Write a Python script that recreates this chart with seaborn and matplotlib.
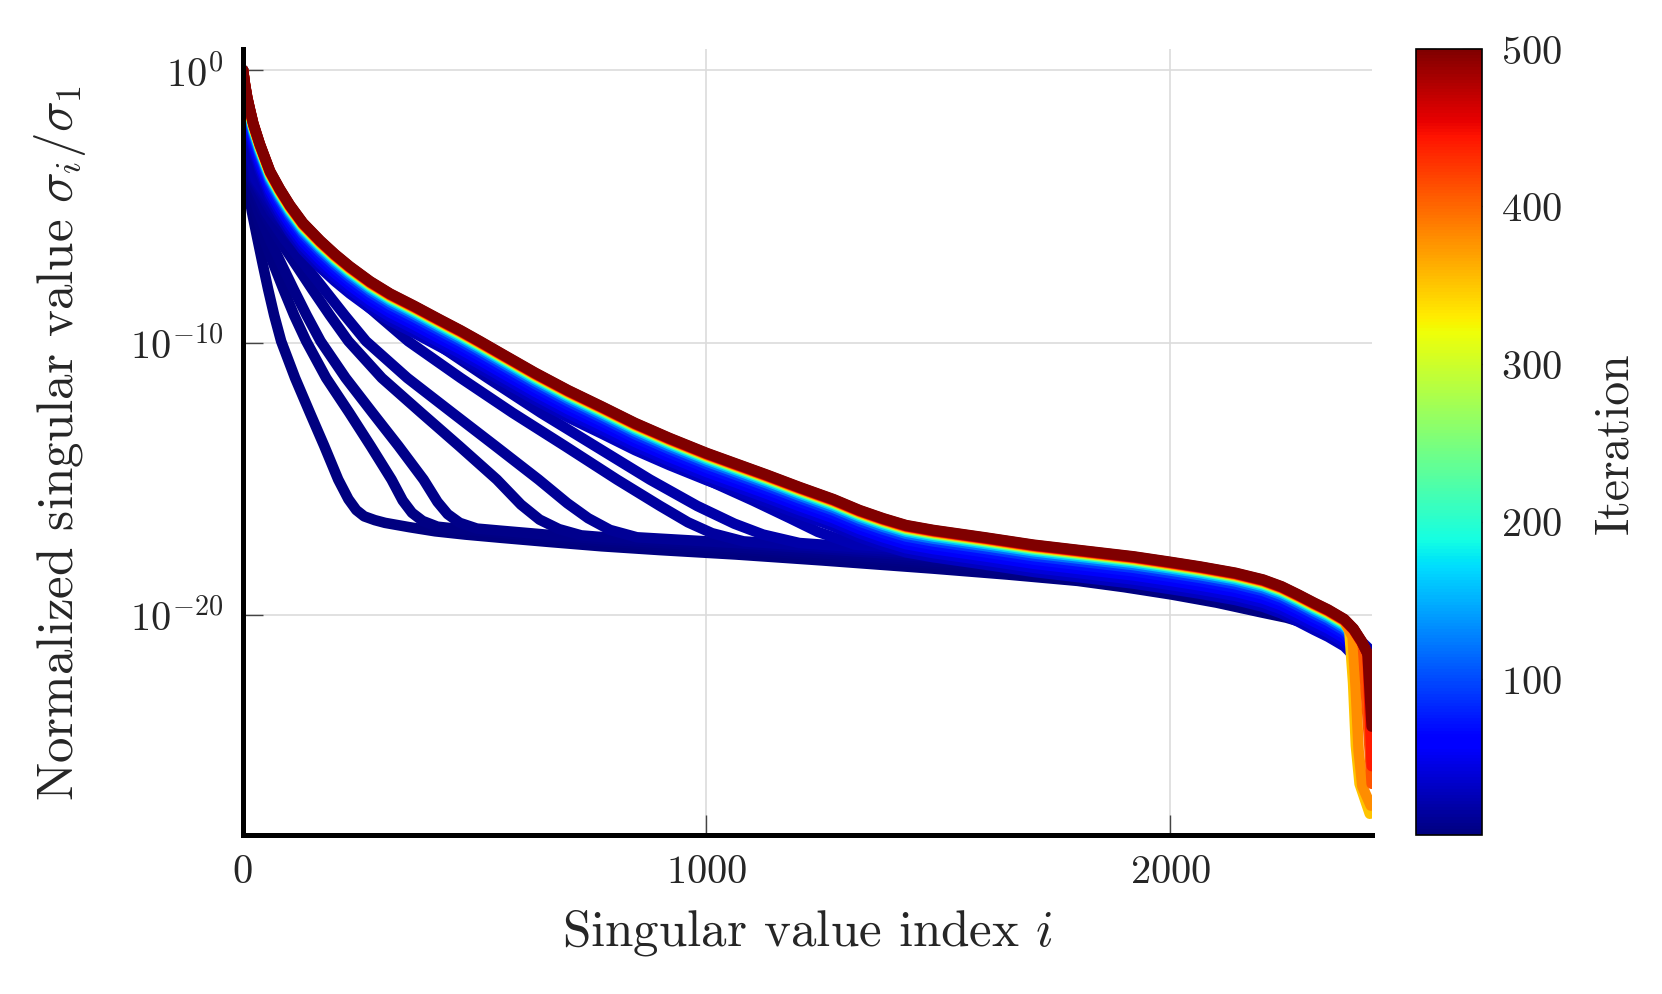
import pandas as pd
import seaborn as sns
import matplotlib.pyplot as plt
from matplotlib.colors import Normalize
from matplotlib.cm import ScalarMappable
from matplotlib.ticker import NullLocator

# top curve (iteration 500): index i and log10(sigma_i / sigma_1)
top_x = [1, 5, 10, 16, 23, 37, 59, 80, 102, 130, 167, 199, 231, 275, 318, 370, 425, 470, 512,
         558, 630, 702, 775, 846, 920, 1000, 1065, 1130, 1200, 1274, 1330, 1381, 1430, 1489,
         1600, 1705, 1810, 1921, 2000, 2064, 2140, 2200, 2240, 2276, 2310, 2340, 2375, 2395,
         2412, 2425, 2434]
top_logy = [0, -0.5, -1.0, -1.45, -1.95, -2.7, -3.7, -4.35, -4.95, -5.6, -6.25, -6.75, -7.2,
            -7.75, -8.2, -8.65, -9.15, -9.55, -9.95, -10.4, -11.1, -11.75, -12.35, -12.95,
            -13.5, -14.05, -14.45, -14.85, -15.3, -15.75, -16.15, -16.45, -16.7, -16.88,
            -17.15, -17.42, -17.63, -17.85, -18.05, -18.22, -18.45, -18.7, -18.95, -19.25,
            -19.55, -19.8, -20.15, -20.5, -20.95, -21.4, -24.1]

# common floor the early iterations fall onto
floor_x = [307, 360, 415, 480, 558, 660, 774, 900, 1062, 1250, 1489, 1650, 1800, 1900, 2002,
           2100, 2194, 2250, 2300, 2343, 2365, 2381, 2410, 2434]
floor_logy = [-16.62, -16.78, -16.93, -17.05, -17.17, -17.32, -17.48, -17.62, -17.78, -18.0,
              -18.3, -18.52, -18.75, -18.98, -19.25, -19.55, -19.9, -20.1, -20.35, -20.7,
              -20.95, -21.2, -21.6, -22.0]

# early iterations: index where each crosses the levels below, then the knee
knee_iters = [1, 3, 5, 8, 11, 15, 19, 24]
levels = [0, -1.4, -2.4, -4.0, -5.2, -6.2, -7.1, -8.05, -9.0, -9.95, -11.3, -12.58, -13.8, -15.03]
knee_cross = [
    [1, 2, 4, 8, 20, 32, 43, 55, 68, 83, 113, 145, 176, 206],
    [1, 2, 5, 10, 28, 46, 66, 88, 111, 137, 180, 230, 276, 321],
    [1, 2, 5, 12, 34, 58, 83, 110, 138, 168, 222, 280, 336, 390],
    [1, 3, 6, 16, 44, 78, 113, 150, 188, 228, 300, 385, 467, 548],
    [1, 3, 7, 18, 50, 90, 132, 176, 220, 266, 355, 452, 545, 638],
    [1, 3, 8, 22, 62, 110, 165, 228, 292, 357, 470, 582, 695, 807],
    [1, 3, 8, 25, 68, 120, 185, 258, 333, 410, 528, 643, 760, 878],
    [1, 3, 9, 28, 75, 132, 202, 285, 370, 455, 578, 700, 845, 1000],
]
bend_x = [
    [228, 245, 262, 285],
    [345, 365, 388, 420],
    [420, 442, 468, 505],
    [600, 640, 682, 730],
    [700, 745, 792, 850],
    [900, 960, 1012, 1080],
    [980, 1060, 1122, 1200],
    [1100, 1180, 1240, 1320],
]
bend_logy = [
    [-15.75, -16.15, -16.38, -16.52],
    [-15.8, -16.25, -16.55, -16.76],
    [-15.85, -16.3, -16.62, -16.83],
    [-15.95, -16.5, -16.85, -17.08],
    [-15.9, -16.45, -16.88, -17.15],
    [-16.0, -16.6, -17.0, -17.3],
    [-16.0, -16.65, -17.05, -17.36],
    [-15.8, -16.45, -16.95, -17.42],
]
knee_lift = [0, 0.18, 0.26, 0.34, 0.42, 0.5, 0.58, 0.66]

# later iterations: decades below the top curve
band_iters = [30, 40, 55, 70, 90, 120, 160, 200, 250, 300, 350, 380, 410, 440, 470, 490]
band_gap = [1.0, 0.85, 0.7, 0.55, 0.42, 0.32, 0.24, 0.18, 0.14, 0.11, 0.09, 0.07, 0.05, 0.04,
            0.03, 0.015]

# sharp drop at the last indices
tail_iters = [350, 380, 410, 440]
tail_x = [[2386, 2394, 2400, 2408, 2430], [2393, 2400, 2406, 2414, 2432],
          [2415, 2428, 2434], [2425, 2434]]
tail_logy = [[-20.6, -22.5, -24.8, -26.2, -27.3], [-20.8, -22.8, -25.0, -26.3, -27.0],
             [-21.1, -24.5, -26.2], [-21.4, -25.55]]

rows = []


def add(it, xs, ys):
    for x, y in zip(xs, ys):
        rows.append((it, x, 10.0 ** y))


for k, it in enumerate(knee_iters):
    xs = knee_cross[k] + bend_x[k]
    ys = levels + bend_logy[k]
    fx = [x for x in floor_x if x > xs[-1]]
    fy = [y + knee_lift[k] for x, y in zip(floor_x, floor_logy) if x > xs[-1]]
    add(it, xs + fx, ys + fy)

for it, gap in zip(band_iters, band_gap):
    xs = [1] + top_x[1:-1]
    ys = [0] + [y - gap for y in top_logy[1:-1]]
    if it in tail_iters:
        k = tail_iters.index(it)
        keep = [j for j, x in enumerate(xs) if x < tail_x[k][0]]
        xs = [xs[j] for j in keep] + tail_x[k]
        ys = [ys[j] for j in keep] + tail_logy[k]
    add(it, xs, ys)

add(500, top_x, top_logy)
df = pd.DataFrame(rows, columns=["iteration", "i", "sv"])

sns.set_theme(style="white")
plt.rcParams["font.family"] = ["cmr10", "DejaVu Serif"]
plt.rcParams["mathtext.fontset"] = "cm"
plt.rcParams["axes.formatter.use_mathtext"] = True

jet = plt.get_cmap("jet")
fig = plt.figure(figsize=(8.31, 4.975), dpi=200)
ax = fig.add_axes([0.146, 0.1598, 0.6793, 0.790])
norm = Normalize(1, 500)

sns.lineplot(data=df, x="i", y="sv", hue="iteration", palette=jet, hue_norm=norm,
             estimator=None, sort=False, linewidth=3.8, legend=False, ax=ax,
             solid_capstyle="round", solid_joinstyle="round")

ax.set_yscale("log")
ax.set_xlim(0, 2434)
ax.set_ylim(10 ** -28.08, 10 ** 0.78)
ax.set_xticks([0, 1000, 2000])
ax.set_yticks([1e0, 1e-10, 1e-20])
ax.yaxis.set_minor_locator(NullLocator())
ax.grid(True, color="#dcdcdc", lw=0.6)
ax.set_axisbelow(True)

for s in ["top", "right"]:
    ax.spines[s].set_visible(False)
for s in ["left", "bottom"]:
    ax.spines[s].set_linewidth(1.8)
    ax.spines[s].set_color("black")

ax.tick_params(direction="in", length=7.2, width=0.5, color="#444444", labelsize=14.5,
               pad=7, left=True, bottom=True)
ax.set_xlabel("Singular value index $i$", fontsize=18.4, labelpad=6)
ax.set_ylabel(r"Normalized singular value $\sigma_i/\sigma_1$", fontsize=18.4, labelpad=15)

cax = fig.add_axes([0.852, 0.1598, 0.0397, 0.790])
cb = fig.colorbar(ScalarMappable(norm=norm, cmap=jet), cax=cax, ticks=[100, 200, 300, 400, 500])
cb.outline.set_linewidth(0.6)
cb.outline.set_edgecolor("black")
cax.tick_params(direction="in", length=7.2, width=0.5, color="gray", labelsize=14.5,
                left=True, right=True, pad=7)
cb.set_label("Iteration", fontsize=17.2, labelpad=11)

fig.savefig("out.png", dpi=200)
